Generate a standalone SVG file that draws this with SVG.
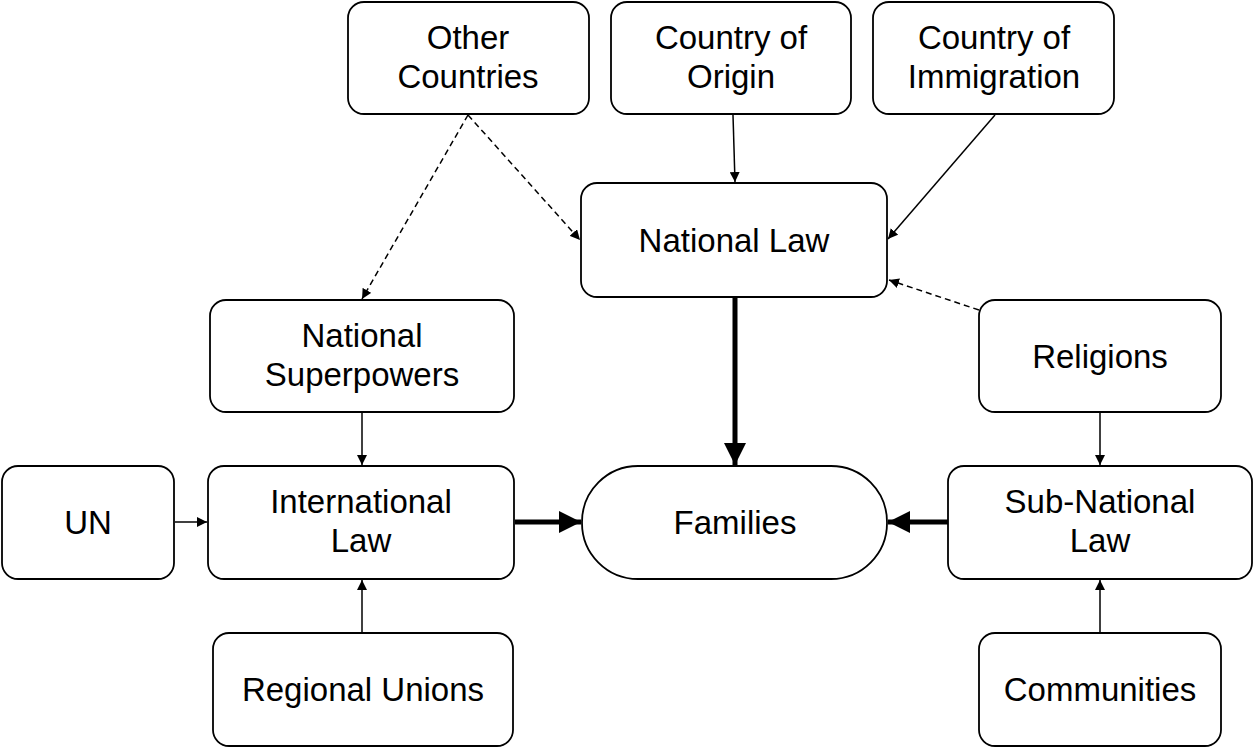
<svg xmlns="http://www.w3.org/2000/svg" width="1254" height="749" viewBox="0 0 1254 749">
<defs>
<style>
.box{fill:#fff;stroke:#000;stroke-width:1.8}
.t{font-family:"Liberation Sans",Arial,sans-serif;font-size:33px;text-anchor:middle;fill:#000}
.c{fill:none;stroke:#000;stroke-width:1.5}
.d{fill:none;stroke:#000;stroke-width:1.5;stroke-dasharray:6 4}
.k{fill:none;stroke:#000;stroke-width:5}
</style>
<marker id="a" viewBox="0 0 10 10" refX="10" refY="5" markerWidth="10" markerHeight="10" markerUnits="userSpaceOnUse" orient="auto"><path d="M0,0 L10,5 L0,10 z" fill="#000"/></marker>
<marker id="b" viewBox="0 0 10 10" refX="10" refY="5" markerWidth="26" markerHeight="22" markerUnits="userSpaceOnUse" orient="auto"><path d="M0,0 L10,5 L0,10 z" fill="#000"/></marker>
</defs>
<rect width="1254" height="749" fill="#fff"/>
<g id="connectors">
<line class="d" x1="468" y1="115" x2="362" y2="299" marker-end="url(#a)"/>
<line class="d" x1="468" y1="115" x2="580" y2="240" marker-end="url(#a)"/>
<line class="c" x1="733" y1="115" x2="735" y2="182" marker-end="url(#a)"/>
<line class="c" x1="995" y1="115" x2="888" y2="239" marker-end="url(#a)"/>
<line class="d" x1="979" y1="310" x2="889" y2="280" marker-end="url(#a)"/>
<line class="k" x1="735" y1="298" x2="735" y2="465" marker-end="url(#b)"/>
<line class="c" x1="362" y1="413" x2="362" y2="465" marker-end="url(#a)"/>
<line class="c" x1="175" y1="522" x2="207" y2="522" marker-end="url(#a)"/>
<line class="c" x1="362" y1="633" x2="362" y2="580" marker-end="url(#a)"/>
<line class="k" x1="515" y1="522" x2="581" y2="522" marker-end="url(#b)"/>
<line class="k" x1="948" y1="522" x2="888" y2="522" marker-end="url(#b)"/>
<line class="c" x1="1100" y1="413" x2="1100" y2="465" marker-end="url(#a)"/>
<line class="c" x1="1100" y1="633" x2="1100" y2="580" marker-end="url(#a)"/>
</g>
<g id="other-countries"><rect class="box" x="348" y="2" width="241" height="112" rx="16"/><text class="t" x="468" y="49">Other</text><text class="t" x="468" y="88">Countries</text></g>
<g id="country-of-origin"><rect class="box" x="611" y="2" width="240" height="112" rx="16"/><text class="t" x="731" y="49">Country of</text><text class="t" x="731" y="88">Origin</text></g>
<g id="country-of-immigration"><rect class="box" x="873" y="2" width="241" height="112" rx="16"/><text class="t" x="994" y="49">Country of</text><text class="t" x="994" y="88">Immigration</text></g>
<g id="national-law"><rect class="box" x="581" y="183" width="306" height="114" rx="16"/><text class="t" x="734" y="252">National Law</text></g>
<g id="national-superpowers"><rect class="box" x="210" y="300" width="304" height="112" rx="16"/><text class="t" x="362" y="347">National</text><text class="t" x="362" y="386">Superpowers</text></g>
<g id="religions"><rect class="box" x="979" y="300" width="242" height="112" rx="16"/><text class="t" x="1100" y="368">Religions</text></g>
<g id="un"><rect class="box" x="2" y="466" width="172" height="113" rx="16"/><text class="t" x="88" y="534">UN</text></g>
<g id="international-law"><rect class="box" x="208" y="466" width="306" height="113" rx="16"/><text class="t" x="361" y="513">International</text><text class="t" x="361" y="552">Law</text></g>
<g id="families"><rect class="box" x="582" y="466" width="305" height="113" rx="56"/><text class="t" x="735" y="534">Families</text></g>
<g id="sub-national-law"><rect class="box" x="948" y="466" width="304" height="113" rx="16"/><text class="t" x="1100" y="513">Sub-National</text><text class="t" x="1100" y="552">Law</text></g>
<g id="regional-unions"><rect class="box" x="213" y="633" width="300" height="113" rx="16"/><text class="t" x="363" y="701">Regional Unions</text></g>
<g id="communities"><rect class="box" x="979" y="633" width="242" height="113" rx="16"/><text class="t" x="1100" y="701">Communities</text></g>
</svg>
